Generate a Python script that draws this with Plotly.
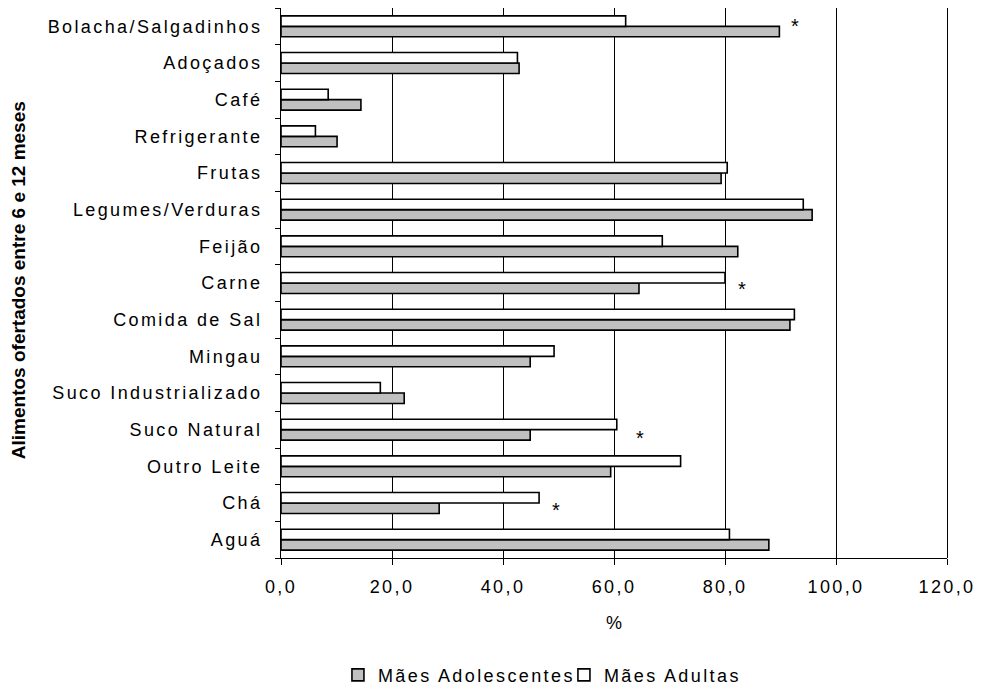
import plotly.graph_objects as go

# Foods offered between 6 and 12 months (listed bottom to top)
foods = [
    "Aguá", "Chá", "Outro Leite", "Suco Natural", "Suco Industrializado",
    "Mingau", "Comida de Sal", "Carne", "Feijão", "Legumes/Verduras",
    "Frutas", "Refrigerante", "Café", "Adoçados", "Bolacha/Salgadinhos",
]
maes_adolescentes = [87.9, 28.5, 59.4, 44.9, 22.2, 44.9, 91.7, 64.5, 82.3, 95.7,
                     79.3, 10.1, 14.4, 42.9, 89.8]
maes_adultas = [80.8, 46.5, 72.0, 60.5, 17.9, 49.2, 92.5, 80.0, 68.7, 94.1,
                80.4, 6.2, 8.5, 42.6, 62.1]

# Significant differences marked with an asterisk: (food, x position, vertical nudge px)
asterisks = [
    ("Bolacha/Salgadinhos", 92.7, 0),
    ("Carne", 83.0, -6),
    ("Suco Natural", 64.6, -8),
    ("Chá", 49.5, -7),
]

x_ticks = [0, 20, 40, 60, 80, 100, 120]
x_tick_text = ["0,0", "20,0", "40,0", "60,0", "80,0", "100,0", "120,0"]

FONT = "Liberation Sans, Arial, sans-serif"

fig = go.Figure()
fig.add_trace(go.Bar(
    name="Mães Adolescentes", y=foods, x=maes_adolescentes, orientation="h",
    marker=dict(color="#c0c0c0", line=dict(color="#000000", width=1.6)),
))
fig.add_trace(go.Bar(
    name="Mães Adultas", y=foods, x=maes_adultas, orientation="h",
    marker=dict(color="#ffffff", line=dict(color="#000000", width=1.6)),
))

for food, xv, shift in asterisks:
    fig.add_annotation(x=xv, y=food, text="*", showarrow=False,
                       yshift=shift, font=dict(family=FONT, size=20, color="#000"))

fig.add_annotation(
    text="<b>Alimentos ofertados entre 6 e 12 meses</b>", textangle=-90,
    xref="paper", yref="paper", x=-0.395, y=0.505, xanchor="center", yanchor="middle",
    showarrow=False, font=dict(family=FONT, size=19, color="#000"),
)

# Right-hand border of the plot at 120
fig.add_shape(type="line", xref="paper", yref="paper",
              x0=1 + 0.5 / 666, x1=1 + 0.5 / 666, y0=0, y1=1,
              line=dict(color="#000000", width=1))

fig.update_layout(
    width=987, height=686,
    margin=dict(l=281, r=40, t=8, b=128, autoexpand=False),
    plot_bgcolor="#ffffff", paper_bgcolor="#ffffff",
    barmode="group", bargap=0.43, bargroupgap=0,
    font=dict(family=FONT, size=18, color="#000000"),
    showlegend=True,
    legend=dict(orientation="h", x=0.0855, xanchor="left", y=-0.213, yanchor="middle",
                font=dict(family=FONT, size=18), itemwidth=30,
                entrywidth=181, bgcolor="rgba(0,0,0,0)", traceorder="normal"),
)

fig.update_xaxes(
    range=[0, 120], tickvals=x_ticks, ticktext=x_tick_text,
    showgrid=True, gridcolor="#000000", gridwidth=1,
    showline=True, linecolor="#000000", linewidth=1,
    ticks="outside", ticklen=6, tickcolor="#000000",
    zeroline=False, ticklabelstandoff=6, automargin=False,
    title=dict(text="%", standoff=20, font=dict(family=FONT, size=18)),
)
fig.update_yaxes(
    type="category", categoryorder="array", categoryarray=foods,
    showgrid=False, showline=True, linecolor="#000000", linewidth=1,
    ticks="outside", ticklen=5, tickcolor="#000000", tickson="boundaries",
    ticklabelstandoff=14, automargin=False,
)

# Wider letter spacing for tick and legend labels
spacing_js = """
var css = document.createElement('style');
css.textContent = '.js-plotly-plot .ytick text, .js-plotly-plot .xtick text,' +
                  ' .js-plotly-plot .infolayer g[class*="legend"] text { letter-spacing: 2.4px; }';
document.head.appendChild(css);
"""

fig.write_html("out.html", post_script=spacing_js)
